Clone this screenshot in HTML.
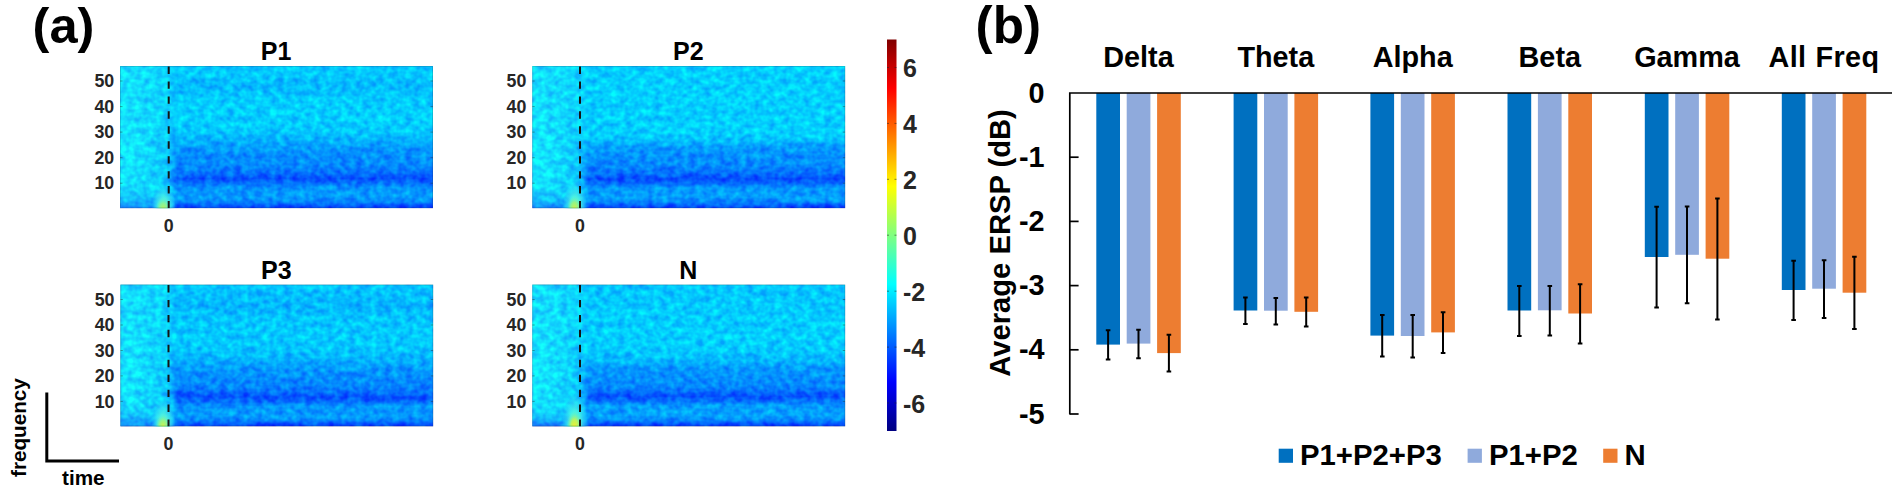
<!DOCTYPE html>
<html lang="en"><head><meta charset="utf-8"><title>ERSP figure</title>
<style>
html,body{margin:0;padding:0;background:#fff;}
body{width:1902px;height:500px;overflow:hidden;}
svg{display:block;}
text{font-family:"Liberation Sans",Arial,Helvetica,sans-serif;font-weight:bold;}
.tk{font-size:17.8px;fill:#262626;}
.tt{font-size:25px;fill:#000;}
.cb{font-size:25px;fill:#262626;}
.big{fill:#000;}
.bl{font-size:28.8px;fill:#000;}
.yl{font-size:29.2px;fill:#000;}
.lg{font-size:29.3px;fill:#000;}
.sm{font-size:20.7px;fill:#000;}
</style></head><body>
<svg width="1902" height="500" viewBox="0 0 1902 500">
<defs>
<linearGradient id="jet" x1="0" y1="0" x2="0" y2="1">
<stop offset="0" stop-color="#800000"/>
<stop offset="0.125" stop-color="#ff0000"/>
<stop offset="0.375" stop-color="#ffff00"/>
<stop offset="0.5" stop-color="#80ff80"/>
<stop offset="0.625" stop-color="#00ffff"/>
<stop offset="0.875" stop-color="#0000ff"/>
<stop offset="1" stop-color="#000080"/>
</linearGradient>
<linearGradient id="hpost0" x1="0" y1="0" x2="0" y2="1"><stop offset="0.000" stop-color="#04c8fd"/><stop offset="0.056" stop-color="#04cafd"/><stop offset="0.141" stop-color="#04b8fd"/><stop offset="0.225" stop-color="#04ccfd"/><stop offset="0.408" stop-color="#04cefd"/><stop offset="0.493" stop-color="#04befd"/><stop offset="0.592" stop-color="#0494fd"/><stop offset="0.704" stop-color="#0486fd"/><stop offset="0.754" stop-color="#0470fd"/><stop offset="0.789" stop-color="#044efd"/><stop offset="0.824" stop-color="#0470fd"/><stop offset="0.852" stop-color="#0494fd"/><stop offset="0.923" stop-color="#049afd"/><stop offset="0.958" stop-color="#0482fd"/><stop offset="0.986" stop-color="#0450fd"/><stop offset="1.000" stop-color="#043efd"/></linearGradient>
<linearGradient id="hpost1" x1="0" y1="0" x2="0" y2="1"><stop offset="0.000" stop-color="#04cefd"/><stop offset="0.211" stop-color="#04d0fd"/><stop offset="0.479" stop-color="#04cefd"/><stop offset="0.528" stop-color="#04befd"/><stop offset="0.570" stop-color="#049afd"/><stop offset="0.704" stop-color="#0488fd"/><stop offset="0.754" stop-color="#0470fd"/><stop offset="0.792" stop-color="#044cfd"/><stop offset="0.831" stop-color="#0470fd"/><stop offset="0.859" stop-color="#0498fd"/><stop offset="0.923" stop-color="#04a0fd"/><stop offset="0.958" stop-color="#0482fd"/><stop offset="0.986" stop-color="#0450fd"/><stop offset="1.000" stop-color="#043efd"/></linearGradient>
<linearGradient id="hpost2" x1="0" y1="0" x2="0" y2="1"><stop offset="0.000" stop-color="#04c6fd"/><stop offset="0.070" stop-color="#04c0fd"/><stop offset="0.155" stop-color="#04b4fd"/><stop offset="0.239" stop-color="#04c6fd"/><stop offset="0.423" stop-color="#04cafd"/><stop offset="0.507" stop-color="#04bafd"/><stop offset="0.606" stop-color="#0494fd"/><stop offset="0.704" stop-color="#0488fd"/><stop offset="0.754" stop-color="#0472fd"/><stop offset="0.792" stop-color="#044efd"/><stop offset="0.831" stop-color="#0472fd"/><stop offset="0.859" stop-color="#0496fd"/><stop offset="0.923" stop-color="#049efd"/><stop offset="0.958" stop-color="#0484fd"/><stop offset="0.986" stop-color="#0450fd"/><stop offset="1.000" stop-color="#043efd"/></linearGradient>
<linearGradient id="hpost3" x1="0" y1="0" x2="0" y2="1"><stop offset="0.000" stop-color="#04c6fd"/><stop offset="0.099" stop-color="#04c8fd"/><stop offset="0.282" stop-color="#04cefd"/><stop offset="0.465" stop-color="#04ccfd"/><stop offset="0.535" stop-color="#04b8fd"/><stop offset="0.592" stop-color="#0498fd"/><stop offset="0.704" stop-color="#048afd"/><stop offset="0.754" stop-color="#0472fd"/><stop offset="0.789" stop-color="#0450fd"/><stop offset="0.824" stop-color="#0472fd"/><stop offset="0.852" stop-color="#049afd"/><stop offset="0.923" stop-color="#04a4fd"/><stop offset="0.958" stop-color="#0486fd"/><stop offset="0.986" stop-color="#0450fd"/><stop offset="1.000" stop-color="#043efd"/></linearGradient>
<linearGradient id="hpre" x1="0" y1="0" x2="0" y2="1"><stop offset="0.000" stop-color="#14dafc"/><stop offset="0.282" stop-color="#14e0fc"/><stop offset="0.634" stop-color="#14e8fc"/><stop offset="0.845" stop-color="#14e2fc"/><stop offset="0.915" stop-color="#14ccfc"/><stop offset="0.958" stop-color="#14acfc"/><stop offset="1.000" stop-color="#1482fc"/></linearGradient>
<linearGradient id="hpre2" x1="0" y1="0" x2="0" y2="1"><stop offset="0.000" stop-color="#0cd6fc"/><stop offset="0.282" stop-color="#0cd2fc"/><stop offset="0.493" stop-color="#0ccafc"/><stop offset="0.704" stop-color="#0cc8fc"/><stop offset="0.880" stop-color="#0ccefc"/><stop offset="0.944" stop-color="#0cbafc"/><stop offset="1.000" stop-color="#0c82fc"/></linearGradient>
<linearGradient id="fadeL" x1="0" y1="0" x2="1" y2="0">
<stop offset="0" stop-color="#fff" stop-opacity="1"/><stop offset="0.8" stop-color="#fff" stop-opacity="0.95"/><stop offset="0.9" stop-color="#fff" stop-opacity="0.6"/><stop offset="1" stop-color="#fff" stop-opacity="0"/></linearGradient>
<mask id="mL" maskContentUnits="objectBoundingBox"><rect x="0" y="0" width="1" height="1" fill="url(#fadeL)"/></mask>
<linearGradient id="fadeL2" x1="0" y1="0" x2="1" y2="0">
<stop offset="0" stop-color="#fff" stop-opacity="1"/><stop offset="0.3" stop-color="#fff" stop-opacity="0.9"/><stop offset="0.7" stop-color="#fff" stop-opacity="0.35"/><stop offset="1" stop-color="#fff" stop-opacity="0"/></linearGradient>
<mask id="mL2" maskContentUnits="objectBoundingBox"><rect x="0" y="0" width="1" height="1" fill="url(#fadeL2)"/></mask>
<radialGradient id="halo" cx="0.5" cy="0.5" r="0.5"><stop offset="0" stop-color="#70fcc8" stop-opacity="1"/><stop offset="0.4" stop-color="#50f4e0" stop-opacity="0.9"/><stop offset="0.75" stop-color="#38e8f4" stop-opacity="0.45"/><stop offset="1" stop-color="#30dcf8" stop-opacity="0"/></radialGradient>
<radialGradient id="core0" cx="0.5" cy="0.5" r="0.5"><stop offset="0" stop-color="#b4f060" stop-opacity="1"/><stop offset="0.5" stop-color="#8cf490" stop-opacity="0.85"/><stop offset="1" stop-color="#50f0d0" stop-opacity="0"/></radialGradient>
<radialGradient id="core1" cx="0.5" cy="0.5" r="0.5"><stop offset="0" stop-color="#d0f048" stop-opacity="1"/><stop offset="0.5" stop-color="#98f480" stop-opacity="0.9"/><stop offset="1" stop-color="#50f0d0" stop-opacity="0"/></radialGradient>
<radialGradient id="core2" cx="0.5" cy="0.5" r="0.5"><stop offset="0" stop-color="#f0f030" stop-opacity="1"/><stop offset="0.45" stop-color="#c0f458" stop-opacity="0.95"/><stop offset="1" stop-color="#50f0d0" stop-opacity="0"/></radialGradient>
<filter id="nz0" x="0" y="0" width="100%" height="100%" color-interpolation-filters="sRGB">
<feTurbulence type="fractalNoise" baseFrequency="0.14 0.16" numOctaves="2" seed="3" result="t"/>
<feColorMatrix in="t" type="matrix" values="0 0 0 0 0.5  1.5 0 0 0 -0.25  0 0 0 0 0.5  0 0 0 0 1" result="n"/>
<feComposite in="SourceGraphic" in2="n" operator="arithmetic" k1="0" k2="1" k3="0.34" k4="-0.17"/>
</filter>
<filter id="nz1" x="0" y="0" width="100%" height="100%" color-interpolation-filters="sRGB">
<feTurbulence type="fractalNoise" baseFrequency="0.14 0.16" numOctaves="2" seed="11" result="t"/>
<feColorMatrix in="t" type="matrix" values="0 0 0 0 0.5  1.5 0 0 0 -0.25  0 0 0 0 0.5  0 0 0 0 1" result="n"/>
<feComposite in="SourceGraphic" in2="n" operator="arithmetic" k1="0" k2="1" k3="0.34" k4="-0.17"/>
</filter>
<filter id="nz2" x="0" y="0" width="100%" height="100%" color-interpolation-filters="sRGB">
<feTurbulence type="fractalNoise" baseFrequency="0.14 0.16" numOctaves="2" seed="23" result="t"/>
<feColorMatrix in="t" type="matrix" values="0 0 0 0 0.5  1.5 0 0 0 -0.25  0 0 0 0 0.5  0 0 0 0 1" result="n"/>
<feComposite in="SourceGraphic" in2="n" operator="arithmetic" k1="0" k2="1" k3="0.34" k4="-0.17"/>
</filter>
<filter id="nz3" x="0" y="0" width="100%" height="100%" color-interpolation-filters="sRGB">
<feTurbulence type="fractalNoise" baseFrequency="0.14 0.16" numOctaves="2" seed="37" result="t"/>
<feColorMatrix in="t" type="matrix" values="0 0 0 0 0.5  1.5 0 0 0 -0.25  0 0 0 0 0.5  0 0 0 0 1" result="n"/>
<feComposite in="SourceGraphic" in2="n" operator="arithmetic" k1="0" k2="1" k3="0.34" k4="-0.17"/>
</filter>
</defs>
<rect width="1902" height="500" fill="#fff"/>
<svg x="120" y="66" width="313" height="142.3" viewBox="0 0 313 142.3" overflow="hidden">
<g filter="url(#nz0)">
<rect x="0" y="0" width="313" height="142.3" fill="url(#hpost0)"/>
<rect x="0" y="0" width="57.69999999999999" height="142.3" fill="url(#hpre2)" mask="url(#mL)"/>
<rect x="0" y="0" width="48.69999999999999" height="142.3" fill="url(#hpre)" mask="url(#mL2)"/>
</g>
<ellipse cx="43.69999999999999" cy="140.3" rx="12.0" ry="21.0" fill="url(#halo)"/>
<ellipse cx="43.19999999999999" cy="142.3" rx="7.5" ry="10.0" fill="url(#core0)"/>
<line x1="48.69999999999999" y1="0.5" x2="48.69999999999999" y2="142.3" stroke="#151515" stroke-width="2" stroke-dasharray="7.4 7.55"/>
<path d="M0 15.0h2.5M310.5 15.0h2.5" stroke="#262626" stroke-width="1" opacity="0.4"/>
<path d="M0 40.6h2.5M310.5 40.6h2.5" stroke="#262626" stroke-width="1" opacity="0.4"/>
<path d="M0 66.1h2.5M310.5 66.1h2.5" stroke="#262626" stroke-width="1" opacity="0.4"/>
<path d="M0 91.7h2.5M310.5 91.7h2.5" stroke="#262626" stroke-width="1" opacity="0.4"/>
<path d="M0 117.2h2.5M310.5 117.2h2.5" stroke="#262626" stroke-width="1" opacity="0.4"/>
<rect x="0.5" y="0.5" width="312" height="141.3" fill="none" stroke="#1a3050" stroke-width="1" opacity="0.2"/>
</svg>
<text class="tk" x="114.2" y="87.2" text-anchor="end">50</text>
<text class="tk" x="114.2" y="112.8" text-anchor="end">40</text>
<text class="tk" x="114.2" y="138.3" text-anchor="end">30</text>
<text class="tk" x="114.2" y="163.9" text-anchor="end">20</text>
<text class="tk" x="114.2" y="189.4" text-anchor="end">10</text>
<text class="tk" x="168.7" y="231.9" text-anchor="middle">0</text>
<text class="tt" x="276.0" y="60.4" text-anchor="middle">P1</text>
<svg x="532.2" y="66" width="313.0999999999999" height="142.3" viewBox="0 0 313.0999999999999 142.3" overflow="hidden">
<g filter="url(#nz1)">
<rect x="0" y="0" width="313.0999999999999" height="142.3" fill="url(#hpost1)"/>
<rect x="0" y="0" width="56.799999999999955" height="142.3" fill="url(#hpre2)" mask="url(#mL)"/>
<rect x="0" y="0" width="47.799999999999955" height="142.3" fill="url(#hpre)" mask="url(#mL2)"/>
</g>
<ellipse cx="42.799999999999955" cy="140.3" rx="12.0" ry="25.2" fill="url(#halo)"/>
<ellipse cx="42.299999999999955" cy="142.3" rx="7.5" ry="12.0" fill="url(#core1)"/>
<line x1="47.799999999999955" y1="0.5" x2="47.799999999999955" y2="142.3" stroke="#151515" stroke-width="2" stroke-dasharray="7.4 7.55"/>
<path d="M0 15.0h2.5M310.5999999999999 15.0h2.5" stroke="#262626" stroke-width="1" opacity="0.4"/>
<path d="M0 40.6h2.5M310.5999999999999 40.6h2.5" stroke="#262626" stroke-width="1" opacity="0.4"/>
<path d="M0 66.1h2.5M310.5999999999999 66.1h2.5" stroke="#262626" stroke-width="1" opacity="0.4"/>
<path d="M0 91.7h2.5M310.5999999999999 91.7h2.5" stroke="#262626" stroke-width="1" opacity="0.4"/>
<path d="M0 117.2h2.5M310.5999999999999 117.2h2.5" stroke="#262626" stroke-width="1" opacity="0.4"/>
<rect x="0.5" y="0.5" width="312.0999999999999" height="141.3" fill="none" stroke="#1a3050" stroke-width="1" opacity="0.2"/>
</svg>
<text class="tk" x="526.4000000000001" y="87.2" text-anchor="end">50</text>
<text class="tk" x="526.4000000000001" y="112.8" text-anchor="end">40</text>
<text class="tk" x="526.4000000000001" y="138.3" text-anchor="end">30</text>
<text class="tk" x="526.4000000000001" y="163.9" text-anchor="end">20</text>
<text class="tk" x="526.4000000000001" y="189.4" text-anchor="end">10</text>
<text class="tk" x="580.0" y="231.9" text-anchor="middle">0</text>
<text class="tt" x="688.25" y="60.4" text-anchor="middle">P2</text>
<svg x="120.3" y="284.5" width="313.0" height="141.89999999999998" viewBox="0 0 313.0 141.89999999999998" overflow="hidden">
<g filter="url(#nz2)">
<rect x="0" y="0" width="313.0" height="141.89999999999998" fill="url(#hpost2)"/>
<rect x="0" y="0" width="57.2" height="141.89999999999998" fill="url(#hpre2)" mask="url(#mL)"/>
<rect x="0" y="0" width="48.2" height="141.89999999999998" fill="url(#hpre)" mask="url(#mL2)"/>
</g>
<ellipse cx="43.2" cy="139.89999999999998" rx="12.0" ry="25.2" fill="url(#halo)"/>
<ellipse cx="42.7" cy="141.89999999999998" rx="7.5" ry="12.0" fill="url(#core1)"/>
<line x1="48.2" y1="0.5" x2="48.2" y2="141.89999999999998" stroke="#151515" stroke-width="2" stroke-dasharray="7.4 7.55"/>
<path d="M0 15.0h2.5M310.5 15.0h2.5" stroke="#262626" stroke-width="1" opacity="0.4"/>
<path d="M0 40.5h2.5M310.5 40.5h2.5" stroke="#262626" stroke-width="1" opacity="0.4"/>
<path d="M0 66.0h2.5M310.5 66.0h2.5" stroke="#262626" stroke-width="1" opacity="0.4"/>
<path d="M0 91.4h2.5M310.5 91.4h2.5" stroke="#262626" stroke-width="1" opacity="0.4"/>
<path d="M0 116.9h2.5M310.5 116.9h2.5" stroke="#262626" stroke-width="1" opacity="0.4"/>
<rect x="0.5" y="0.5" width="312.0" height="140.89999999999998" fill="none" stroke="#1a3050" stroke-width="1" opacity="0.2"/>
</svg>
<text class="tk" x="114.5" y="305.7" text-anchor="end">50</text>
<text class="tk" x="114.5" y="331.2" text-anchor="end">40</text>
<text class="tk" x="114.5" y="356.7" text-anchor="end">30</text>
<text class="tk" x="114.5" y="382.1" text-anchor="end">20</text>
<text class="tk" x="114.5" y="407.6" text-anchor="end">10</text>
<text class="tk" x="168.5" y="450.0" text-anchor="middle">0</text>
<text class="tt" x="276.3" y="278.9" text-anchor="middle">P3</text>
<svg x="532.2" y="284.5" width="313.0999999999999" height="141.89999999999998" viewBox="0 0 313.0999999999999 141.89999999999998" overflow="hidden">
<g filter="url(#nz3)">
<rect x="0" y="0" width="313.0999999999999" height="141.89999999999998" fill="url(#hpost3)"/>
<rect x="0" y="0" width="56.799999999999955" height="141.89999999999998" fill="url(#hpre2)" mask="url(#mL)"/>
<rect x="0" y="0" width="47.799999999999955" height="141.89999999999998" fill="url(#hpre)" mask="url(#mL2)"/>
</g>
<ellipse cx="42.799999999999955" cy="139.89999999999998" rx="12.8" ry="31.5" fill="url(#halo)"/>
<ellipse cx="42.299999999999955" cy="141.89999999999998" rx="8.0" ry="15.0" fill="url(#core2)"/>
<line x1="47.799999999999955" y1="0.5" x2="47.799999999999955" y2="141.89999999999998" stroke="#151515" stroke-width="2" stroke-dasharray="7.4 7.55"/>
<path d="M0 15.0h2.5M310.5999999999999 15.0h2.5" stroke="#262626" stroke-width="1" opacity="0.4"/>
<path d="M0 40.5h2.5M310.5999999999999 40.5h2.5" stroke="#262626" stroke-width="1" opacity="0.4"/>
<path d="M0 66.0h2.5M310.5999999999999 66.0h2.5" stroke="#262626" stroke-width="1" opacity="0.4"/>
<path d="M0 91.4h2.5M310.5999999999999 91.4h2.5" stroke="#262626" stroke-width="1" opacity="0.4"/>
<path d="M0 116.9h2.5M310.5999999999999 116.9h2.5" stroke="#262626" stroke-width="1" opacity="0.4"/>
<rect x="0.5" y="0.5" width="312.0999999999999" height="140.89999999999998" fill="none" stroke="#1a3050" stroke-width="1" opacity="0.2"/>
</svg>
<text class="tk" x="526.4000000000001" y="305.7" text-anchor="end">50</text>
<text class="tk" x="526.4000000000001" y="331.2" text-anchor="end">40</text>
<text class="tk" x="526.4000000000001" y="356.7" text-anchor="end">30</text>
<text class="tk" x="526.4000000000001" y="382.1" text-anchor="end">20</text>
<text class="tk" x="526.4000000000001" y="407.6" text-anchor="end">10</text>
<text class="tk" x="580.0" y="450.0" text-anchor="middle">0</text>
<text class="tt" x="688.25" y="278.9" text-anchor="middle">N</text>
<rect x="887" y="39.5" width="9.5" height="391.5" fill="url(#jet)"/>
<path d="M887 67.5h2M894.5 67.5h2" stroke="#262626" stroke-width="1" opacity="0.55"/>
<text class="cb" x="903" y="77.3">6</text>
<path d="M887 123.4h2M894.5 123.4h2" stroke="#262626" stroke-width="1" opacity="0.55"/>
<text class="cb" x="903" y="133.2">4</text>
<path d="M887 179.3h2M894.5 179.3h2" stroke="#262626" stroke-width="1" opacity="0.55"/>
<text class="cb" x="903" y="189.1">2</text>
<path d="M887 235.2h2M894.5 235.2h2" stroke="#262626" stroke-width="1" opacity="0.55"/>
<text class="cb" x="903" y="245.1">0</text>
<path d="M887 291.2h2M894.5 291.2h2" stroke="#262626" stroke-width="1" opacity="0.55"/>
<text class="cb" x="903" y="301.0">-2</text>
<path d="M887 347.1h2M894.5 347.1h2" stroke="#262626" stroke-width="1" opacity="0.55"/>
<text class="cb" x="903" y="356.9">-4</text>
<path d="M887 403.0h2M894.5 403.0h2" stroke="#262626" stroke-width="1" opacity="0.55"/>
<text class="cb" x="903" y="412.8">-6</text>
<text class="big" font-size="50.6" x="32.6" y="42.8">(a)</text>
<text class="big" font-size="51.2" x="975.6" y="42.8">(b)</text>
<path d="M46.8 392.5V461H119" fill="none" stroke="#000" stroke-width="3"/>
<text class="sm" transform="translate(26.4 477) rotate(-90)">frequency</text>
<text class="sm" x="62" y="485.2">time</text>
<rect x="1096.3" y="93.0" width="23.7" height="251.6" fill="#0070c0"/>
<path d="M1108.1 330.2V359.4M1105.8 330.2h4.6M1105.8 359.4h4.6" stroke="#000" stroke-width="2" fill="none"/>
<rect x="1126.7" y="93.0" width="23.7" height="250.6" fill="#8faadc"/>
<path d="M1138.5 329.8V358.2M1136.2 329.8h4.6M1136.2 358.2h4.6" stroke="#000" stroke-width="2" fill="none"/>
<rect x="1157.1" y="93.0" width="23.7" height="260.1" fill="#ed7d31"/>
<path d="M1168.9 334.8V371.6M1166.6 334.8h4.6M1166.6 371.6h4.6" stroke="#000" stroke-width="2" fill="none"/>
<text class="bl" x="1138.5" y="67" text-anchor="middle">Delta</text>
<rect x="1233.6" y="93.0" width="23.7" height="217.5" fill="#0070c0"/>
<path d="M1245.4 297.6V324M1243.1 297.6h4.6M1243.1 324h4.6" stroke="#000" stroke-width="2" fill="none"/>
<rect x="1264.0" y="93.0" width="23.7" height="217.7" fill="#8faadc"/>
<path d="M1275.8 297.9V324.5M1273.5 297.9h4.6M1273.5 324.5h4.6" stroke="#000" stroke-width="2" fill="none"/>
<rect x="1294.4" y="93.0" width="23.7" height="218.8" fill="#ed7d31"/>
<path d="M1306.2 297.4V326.6M1303.9 297.4h4.6M1303.9 326.6h4.6" stroke="#000" stroke-width="2" fill="none"/>
<text class="bl" x="1275.8" y="67" text-anchor="middle">Theta</text>
<rect x="1370.4" y="93.0" width="23.7" height="242.6" fill="#0070c0"/>
<path d="M1382.2 315.1V356.5M1380.0 315.1h4.6M1380.0 356.5h4.6" stroke="#000" stroke-width="2" fill="none"/>
<rect x="1400.8" y="93.0" width="23.7" height="243.0" fill="#8faadc"/>
<path d="M1412.7 315.1V357.6M1410.4 315.1h4.6M1410.4 357.6h4.6" stroke="#000" stroke-width="2" fill="none"/>
<rect x="1431.2" y="93.0" width="23.7" height="239.4" fill="#ed7d31"/>
<path d="M1443.0 312.2V353.1M1440.8 312.2h4.6M1440.8 353.1h4.6" stroke="#000" stroke-width="2" fill="none"/>
<text class="bl" x="1412.7" y="67" text-anchor="middle">Alpha</text>
<rect x="1507.5" y="93.0" width="23.7" height="217.5" fill="#0070c0"/>
<path d="M1519.3 286V336.1M1517.0 286h4.6M1517.0 336.1h4.6" stroke="#000" stroke-width="2" fill="none"/>
<rect x="1537.9" y="93.0" width="23.7" height="217.3" fill="#8faadc"/>
<path d="M1549.8 286V335.6M1547.5 286h4.6M1547.5 335.6h4.6" stroke="#000" stroke-width="2" fill="none"/>
<rect x="1568.3" y="93.0" width="23.7" height="220.5" fill="#ed7d31"/>
<path d="M1580.1 284.3V343.6M1577.8 284.3h4.6M1577.8 343.6h4.6" stroke="#000" stroke-width="2" fill="none"/>
<text class="bl" x="1549.8" y="67" text-anchor="middle">Beta</text>
<rect x="1644.8" y="93.0" width="23.7" height="164.0" fill="#0070c0"/>
<path d="M1656.6 206.8V307.6M1654.3 206.8h4.6M1654.3 307.6h4.6" stroke="#000" stroke-width="2" fill="none"/>
<rect x="1675.2" y="93.0" width="23.7" height="161.8" fill="#8faadc"/>
<path d="M1687.0 206.4V303.2M1684.8 206.4h4.6M1684.8 303.2h4.6" stroke="#000" stroke-width="2" fill="none"/>
<rect x="1705.6" y="93.0" width="23.7" height="165.7" fill="#ed7d31"/>
<path d="M1717.4 198.4V319.6M1715.1 198.4h4.6M1715.1 319.6h4.6" stroke="#000" stroke-width="2" fill="none"/>
<text class="bl" x="1687.0" y="67" text-anchor="middle">Gamma</text>
<rect x="1781.8" y="93.0" width="23.7" height="197.0" fill="#0070c0"/>
<path d="M1793.6 260.8V319.9M1791.3 260.8h4.6M1791.3 319.9h4.6" stroke="#000" stroke-width="2" fill="none"/>
<rect x="1812.2" y="93.0" width="23.7" height="195.7" fill="#8faadc"/>
<path d="M1824.0 260.3V318M1821.8 260.3h4.6M1821.8 318h4.6" stroke="#000" stroke-width="2" fill="none"/>
<rect x="1842.6" y="93.0" width="23.7" height="199.7" fill="#ed7d31"/>
<path d="M1854.4 256.7V328.9M1852.1 256.7h4.6M1852.1 328.9h4.6" stroke="#000" stroke-width="2" fill="none"/>
<text class="bl" x="1824.0" y="67" text-anchor="middle" word-spacing="0.8" letter-spacing="0.35">All Freq</text>
<path d="M1892 93.0H1069.8V414.4" fill="none" stroke="#000" stroke-width="1.7"/>
<text class="bl" x="1044.5" y="102.6" text-anchor="end">0</text>
<line x1="1069.8" y1="157.2" x2="1078.6" y2="157.2" stroke="#000" stroke-width="1.7"/>
<text class="bl" x="1044.5" y="166.8" text-anchor="end">-1</text>
<line x1="1069.8" y1="221.4" x2="1078.6" y2="221.4" stroke="#000" stroke-width="1.7"/>
<text class="bl" x="1044.5" y="231.0" text-anchor="end">-2</text>
<line x1="1069.8" y1="285.6" x2="1078.6" y2="285.6" stroke="#000" stroke-width="1.7"/>
<text class="bl" x="1044.5" y="295.2" text-anchor="end">-3</text>
<line x1="1069.8" y1="349.8" x2="1078.6" y2="349.8" stroke="#000" stroke-width="1.7"/>
<text class="bl" x="1044.5" y="359.4" text-anchor="end">-4</text>
<line x1="1069.8" y1="414.0" x2="1078.6" y2="414.0" stroke="#000" stroke-width="1.7"/>
<text class="bl" x="1044.5" y="423.6" text-anchor="end">-5</text>
<text class="yl" transform="translate(1009.6 376.8) rotate(-90)">Average ERSP (dB)</text>
<rect x="1278.7" y="448.7" width="14.3" height="14.1" fill="#0070c0"/>
<text class="lg" x="1300" y="464.6">P1+P2+P3</text>
<rect x="1467.6" y="448.7" width="14.3" height="14.1" fill="#8faadc"/>
<text class="lg" x="1489" y="464.6">P1+P2</text>
<rect x="1603.2" y="448.7" width="14.3" height="14.1" fill="#ed7d31"/>
<text class="lg" x="1624.6" y="464.6">N</text>
</svg></body></html>
